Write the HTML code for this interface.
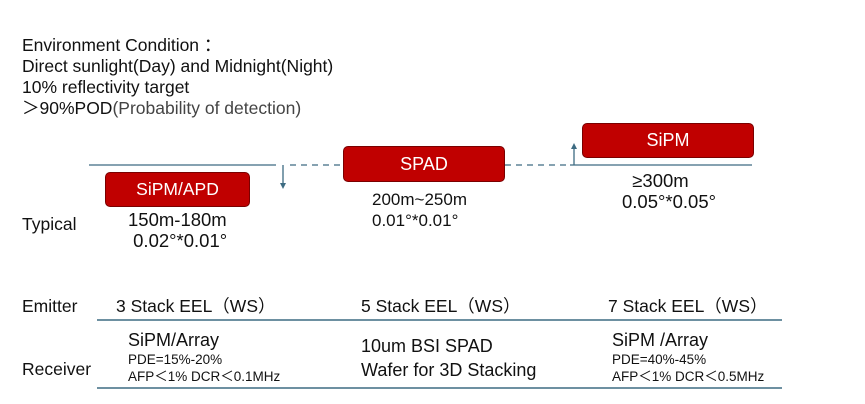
<!DOCTYPE html>
<html><head><meta charset="utf-8"><style>
body{margin:0;width:865px;height:404px;background:#fff;position:relative;overflow:hidden;font-family:"Liberation Sans","Noto Sans CJK SC",sans-serif;color:#111}
.t{position:absolute;white-space:nowrap}
.box{position:absolute;background:#c00000;border:1px solid #7a0000;border-radius:5px;color:#fff;text-align:center;font-size:18px;box-sizing:border-box}
</style></head><body>
<div class="t" style="left:22px;top:35px;font-size:17.5px;line-height:21px">Environment Condition ：<br>Direct sunlight(Day) and Midnight(Night)<br>10% reflectivity target<br>＞90%POD<span style="color:#444">(Probability of detection)</span></div>

<svg width="865" height="404" style="position:absolute;left:0;top:0">
<line x1="89" y1="165" x2="276" y2="165" stroke="#3d6b82" stroke-width="1.3"/>
<line x1="290" y1="165" x2="343" y2="165" stroke="#3d6b82" stroke-width="1.3" stroke-dasharray="6,5"/>
<line x1="505" y1="165" x2="570" y2="165" stroke="#3d6b82" stroke-width="1.3" stroke-dasharray="6,5"/>
<line x1="570" y1="165" x2="752" y2="165" stroke="#3d6b82" stroke-width="1.3"/>
<line x1="283" y1="165" x2="283" y2="184" stroke="#3d6b82" stroke-width="1.3"/>
<path d="M280 183 L283 189 L286 183Z" fill="#3d6b82"/>
<line x1="574" y1="165" x2="574" y2="148" stroke="#3d6b82" stroke-width="1.3"/>
<path d="M571 149 L574 143 L577 149Z" fill="#3d6b82"/>
<line x1="97" y1="320" x2="782" y2="320" stroke="#3d6b82" stroke-width="1.5"/>
<line x1="97" y1="388" x2="782" y2="388" stroke="#3d6b82" stroke-width="1.5"/>
</svg>

<div class="box" style="left:105px;top:172px;width:145px;height:35px;line-height:33px;font-size:17.5px">SiPM/APD</div>
<div class="box" style="left:343px;top:146px;width:162px;height:36px;line-height:34px">SPAD</div>
<div class="box" style="left:582px;top:123px;width:172px;height:35px;line-height:33px">SiPM</div>

<div class="t" style="left:128px;top:209px;font-size:18.5px;line-height:21px">150m-180m<br>&nbsp;0.02°*0.01°</div>
<div class="t" style="left:372px;top:189px;font-size:17px;line-height:21px">200m~250m<br>0.01°*0.01°</div>
<div class="t" style="left:622px;top:170px;font-size:18.5px;line-height:21px">&nbsp;&nbsp;≥300m<br>0.05°*0.05°</div>
<div class="t" style="left:22px;top:214px;font-size:17.5px">Typical</div>

<div class="t" style="left:22px;top:296px;font-size:17.5px">Emitter</div>
<div class="t" style="left:116px;top:293px;font-size:17.5px">3 Stack EEL（WS）</div>
<div class="t" style="left:361px;top:293px;font-size:17.5px">5 Stack EEL（WS）</div>
<div class="t" style="left:608px;top:293px;font-size:17.5px">7 Stack EEL（WS）</div>

<div class="t" style="left:22px;top:359px;font-size:17.5px">Receiver</div>
<div class="t" style="left:128px;top:330px;font-size:18px">SiPM/Array</div>
<div class="t" style="left:128px;top:351px;font-size:13.5px;line-height:17px">PDE=15%-20%<br>AFP＜1% DCR＜0.1MHz</div>
<div class="t" style="left:361px;top:334px;font-size:18px;line-height:24px">10um BSI SPAD<br>Wafer for 3D Stacking</div>
<div class="t" style="left:612px;top:330px;font-size:18px">SiPM /Array</div>
<div class="t" style="left:612px;top:351px;font-size:13.5px;line-height:17px">PDE=40%-45%<br>AFP＜1% DCR＜0.5MHz</div>
</body></html>
